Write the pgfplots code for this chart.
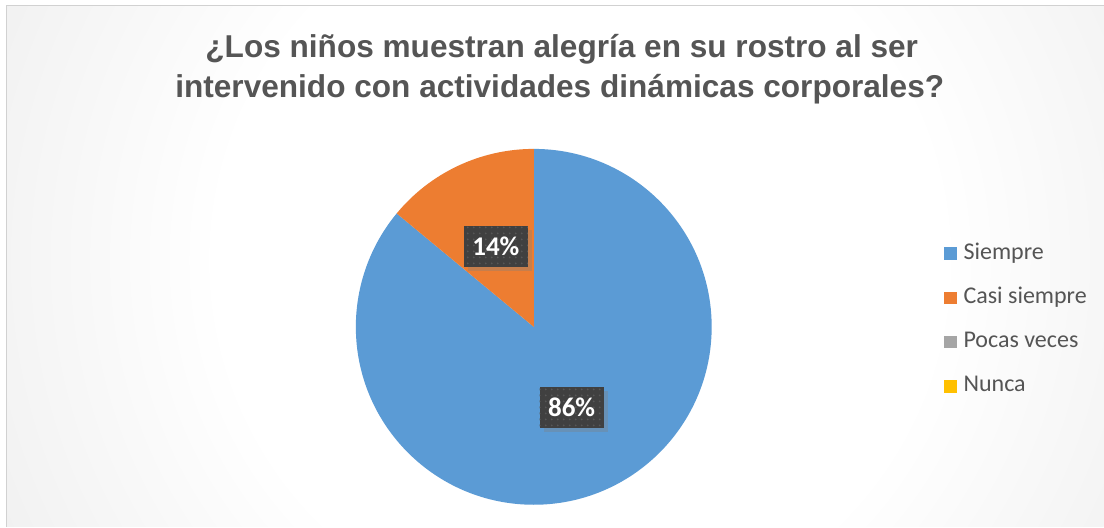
\documentclass[border=0pt]{standalone}
\usepackage{fontspec}
\setmainfont{Liberation Sans}
\newfontfamily\carlito{Carlito}
\usepackage{pgfplots}
\pgfplotsset{compat=1.18}
\usepackage{pgfplotstable}
\usetikzlibrary{patterns, shadows}

\definecolor{pieblue}{HTML}{5B9BD5}
\definecolor{pieorange}{HTML}{ED7D31}
\definecolor{piegray}{HTML}{A5A5A5}
\definecolor{pieyellow}{HTML}{FFC000}
\definecolor{txtgray}{HTML}{555555}
\definecolor{lblgray}{HTML}{404040}
\definecolor{bgA}{HTML}{F3F3F3}
\definecolor{bgB}{HTML}{E2E2E2}
\definecolor{bgC}{HTML}{D2D2D2}
\definecolor{bgD}{HTML}{C3C3C3}

% 1bp of the shading = 14px once it is stretched over a 1400px square
\pgfdeclareradialshading{chartbg}{\pgfpoint{0bp}{0bp}}{%
  color(0bp)=(white); color(12.9bp)=(white); color(21.4bp)=(bgA);
  color(32.1bp)=(bgB); color(39.3bp)=(bgC); color(50bp)=(bgD)}

% slices, in Excel order (clockwise from 12 o'clock)
\pgfplotstableread{
name            value col
Siempre         86    pieblue
{Casi siempre}  14    pieorange
{Pocas veces}   0     piegray
Nunca           0     pieyellow
}\piedata

\begin{document}
\begin{tikzpicture}[x=0.5pt, y=0.5pt,
  lbl/.style={fill=lblgray, text=white, inner sep=0pt,
    minimum width=32pt, minimum height=20.5pt,
    font=\carlito\bfseries\fontsize{13.5}{15}\selectfont,
    postaction={pattern=dots, pattern color=white!12!lblgray},
    drop shadow={shadow xshift=2pt, shadow yshift=-2pt, opacity=0.35}}]
% 1px = 0.5pt, origin bottom left
\fill[white] (0,0) rectangle (1104,527);
\begin{scope}
  \clip (7,0) rectangle (1104,521);
  \shade[shading=chartbg] (580-700,267-700) rectangle (580+700,267+700);
\end{scope}
\draw[black!18, line width=0.5pt] (7,0) -- (7,521) -- (1104,521);

\node[anchor=base, font=\bfseries\fontsize{15.8}{18}\selectfont, text=txtgray]
  at (562,469) {¿Los niños muestran alegría en su rostro al ser};
\node[anchor=base, font=\bfseries\fontsize{15.8}{18}\selectfont, text=txtgray]
  at (560,429) {intervenido con actividades dinámicas corporales?};

\begin{axis}[
  at={(0,0)}, anchor=south west,
  width=552pt, height=263.5pt, scale only axis,
  xmin=0, xmax=1104, ymin=0, ymax=527,
  hide axis, clip=false,
  legend cell align=left,
  legend style={at={(axis cs:944,207)}, anchor=west,
    draw=none, fill=none, inner sep=0pt,
    font=\carlito\fontsize{12}{13}\selectfont, text=txtgray,
    row sep=11.6pt,
    nodes={inner sep=0pt, text height=8pt, text depth=2.5pt}}
]
\pgfmathsetmacro\angA{90}
\pgfplotsforeachungrouped \i in {0,...,3}{%
  \pgfplotstablegetelem{\i}{name}\of\piedata \let\nm\pgfplotsretval
  \pgfplotstablegetelem{\i}{col}\of\piedata \let\cl\pgfplotsretval
  \pgfplotstablegetelem{\i}{value}\of\piedata \let\vl\pgfplotsretval
  \pgfmathsetmacro\angB{\angA-3.6*\vl}
  \edef\doslice{%
    \noexpand\addlegendimage{legend image code/.code={%
      \noexpand\fill[\cl] (0pt,-2.9pt) rectangle (5.8pt,2.9pt);
      \noexpand\path (9.4pt,0pt);}}%
    \noexpand\addlegendentry{\nm}%
  }\doslice
  \ifdim\vl pt>0pt
    \edef\doslice{%
      \noexpand\fill[\cl] (axis cs:534,200) -- ++(\angA:89pt)
        arc[start angle=\angA, end angle=\angB, radius=89pt] -- cycle;}%
    \doslice
  \fi
  \let\angA\angB
}
% data labels at half radius on each slice's middle angle
\pgfmathsetmacro\angA{90}
\pgfplotsforeachungrouped \i in {0,...,3}{%
  \pgfplotstablegetelem{\i}{value}\of\piedata \let\vl\pgfplotsretval
  \pgfmathsetmacro\angB{\angA-3.6*\vl}
  \ifdim\vl pt>0pt
    \pgfmathsetmacro\lx{534+89*cos((\angA+\angB)/2)}
    \pgfmathsetmacro\ly{200+89*sin((\angA+\angB)/2)}
    \edef\doslice{%
      \noexpand\node[lbl] at (axis cs:\lx,\ly) {\vl\noexpand\%};}%
    \doslice
  \fi
  \let\angA\angB
}
\end{axis}
\end{tikzpicture}
\end{document}
